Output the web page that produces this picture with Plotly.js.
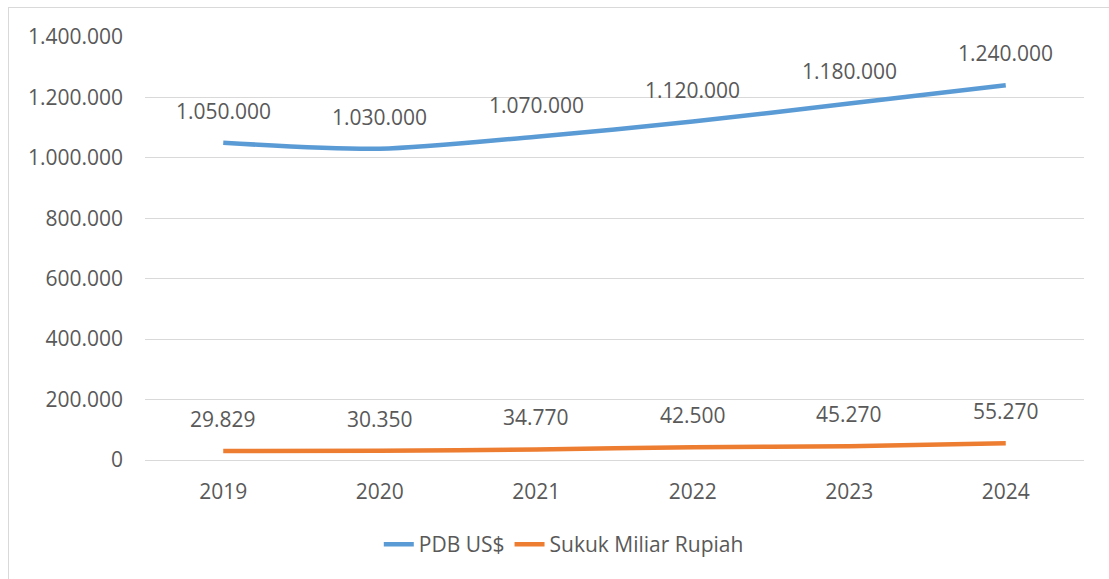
<!DOCTYPE html>
<html>
<head>
<meta charset="utf-8">
<script src="https://cdn.plot.ly/plotly-3.0.1.min.js"></script>
<style>
  html, body { margin: 0; padding: 0; background: #ffffff; }
  #frame { position: absolute; left: 8px; top: 7px; width: 1200px; height: 700px; border: 1px solid #d9d9d9; box-sizing: border-box; }
  #chart { position: absolute; left: 0; top: 0; width: 1109px; height: 579px; }
</style>
</head>
<body>
<div id="frame"></div>
<div id="chart"></div>
<script>
const years = ['2019', '2020', '2021', '2022', '2023', '2024'];
const pdbUSD = [1050000, 1030000, 1070000, 1120000, 1180000, 1240000];
const sukukMiliarRupiah = [29829, 30350, 34770, 42500, 45270, 55270];
const seriesNames = ['PDB US$', 'Sukuk Miliar Rupiah'];
const yTickValues = [0, 200000, 400000, 600000, 800000, 1000000, 1200000, 1400000];

function fmt(n) {
  return String(Math.round(n)).replace(/\B(?=(\d{3})+(?!\d))/g, '.');
}

const FONT = '"Open Sans", Lato, sans-serif';
const TXT = '#595959';
const FS = 21;

const traces = [
  { x: years, y: pdbUSD, name: seriesNames[0], type: 'scatter', mode: 'lines',
    line: { color: '#5B9BD5', width: 4.5, shape: 'spline', smoothing: 0.8 }, hoverinfo: 'x+y' },
  { x: years, y: sukukMiliarRupiah, name: seriesNames[1], type: 'scatter', mode: 'lines',
    line: { color: '#ED7D31', width: 4.5, shape: 'spline', smoothing: 0.8 }, hoverinfo: 'x+y' }
];

const annotations = [];
[pdbUSD, sukukMiliarRupiah].forEach(arr => {
  arr.forEach((v, i) => {
    annotations.push({ x: i, y: v, xref: 'x', yref: 'y', text: fmt(v), showarrow: false,
      yshift: 32, font: { family: FONT, size: FS, color: TXT } });
  });
});

const layout = {
  width: 1109, height: 579,
  margin: { l: 145, r: 25, t: 37, b: 119 },
  paper_bgcolor: 'rgba(0,0,0,0)', plot_bgcolor: 'rgba(0,0,0,0)',
  separators: ',.',
  font: { family: FONT, size: FS, color: TXT },
  xaxis: { type: 'category', range: [-0.5, 5.5], showgrid: false, showline: false, zeroline: false,
    ticks: '', ticklabelstandoff: 17, tickfont: { family: FONT, size: FS, color: TXT }, fixedrange: true },
  yaxis: { range: [0, 1400000], tickvals: yTickValues, ticktext: yTickValues.map(fmt),
    showgrid: true, gridcolor: '#d9d9d9', gridwidth: 1.3, zeroline: true, zerolinecolor: '#d9d9d9', zerolinewidth: 1.3,
    showline: false, ticks: '', ticklabelstandoff: 21, tickfont: { family: FONT, size: FS, color: TXT }, fixedrange: true },
  showlegend: true,
  legend: { orientation: 'h', x: 0.446, xanchor: 'center', y: -0.2, yanchor: 'middle',
    font: { family: FONT, size: FS, color: TXT }, bgcolor: 'rgba(0,0,0,0)', itemclick: false },
  annotations: annotations
};

Plotly.newPlot('chart', traces, layout, { displayModeBar: false });
</script>
</body>
</html>
